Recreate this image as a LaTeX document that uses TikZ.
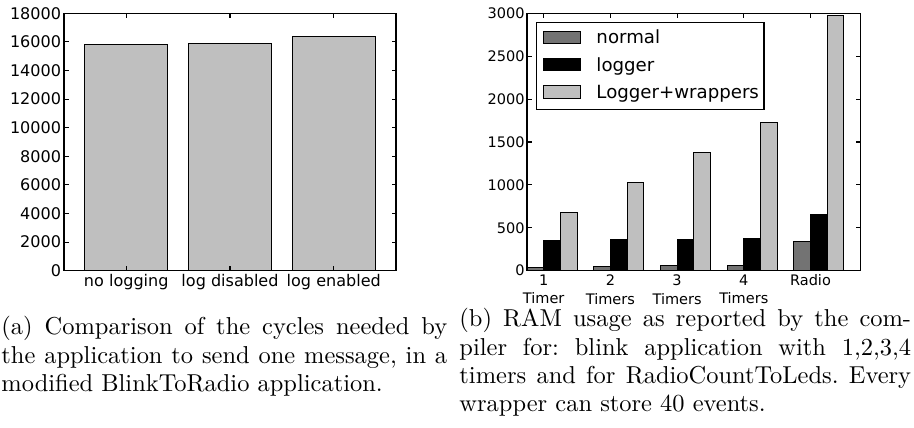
\documentclass[tikz,border=0pt]{standalone}
\usepackage{fontspec}
\newfontfamily\plotfont{DejaVu Sans}
\usepackage{tikz}
\usetikzlibrary{positioning}
\definecolor{barnormal}{gray}{0.45}
\definecolor{barwrap}{gray}{0.75}
\frenchspacing

\begin{document}
\begin{tikzpicture}[x=0.424pt,y=0.424pt]
	\tikzstyle{barbox}=[draw=black, line width=0.4pt]
	\tikzstyle{axframe}=[draw=black, line width=0.45pt]
	\tikzstyle{axtick}=[line width=0.45pt]
	\tikzstyle{labA}=[inner sep=0pt, font=\plotfont\fontsize{6.8}{8}\selectfont]
	\tikzstyle{labB}=[inner sep=0pt, font=\plotfont\fontsize{6.15}{8}\selectfont]
	\tikzstyle{legtext}=[inner sep=0pt, anchor=base west, font=\plotfont\fontsize{7.7}{9}\selectfont]
	\tikzstyle{caption}=[inner sep=0pt, anchor=base west, align=justify, font=\fontsize{10.37}{12}\selectfont]
	\useasboundingbox (0,0) rectangle (914,428);

	% (a) cycles per message
	\foreach \v [count=\i from 0] in {15.85,15.86,16.40}
		\draw[barbox, fill=barwrap] ({64+(0.2+\i)*103.75},157.3) rectangle ++(83,{\v*14.3});
	\draw[axframe] (64,157.3) rectangle (396,414.7);
	\foreach \lab [count=\i from 0] in {0,2000,4000,6000,8000,10000,12000,14000,16000,18000} {
		\node[labA, anchor=east] (ylA\i) at (61.5,{157.3+\i*28.6}) {\lab};
		\draw[axtick] (64,{157.3+\i*28.6}) -- ++(4.5,0) (396,{157.3+\i*28.6}) -- ++(-4.5,0);
	}
	\foreach \lab [count=\i from 0] in {no logging,log disabled,log enabled} {
		\node[labA, anchor=north] (xlA\i) at ({64+(0.6+\i)*103.75},154) {\lab};
		\draw[axtick] ({64+(0.6+\i)*103.75},157.3) -- ++(0,4.5) ({64+(0.6+\i)*103.75},414.7) -- ++(0,-4.5);
	}

	% (b) RAM usage
	\foreach \n/\l/\w [count=\i from 0] in {40/350/684,47/361/1030,58/369/1380,66/381/1725,346/661/2969} {
		\draw[barbox, fill=barnormal] ({527+\i*66.7},157.3) rectangle ++(16.7,{\n*0.0858});
		\draw[barbox, fill=black] ({527+(\i+0.25)*66.7},157.3) rectangle ++(16.7,{\l*0.0858});
		\draw[barbox, fill=barwrap] ({527+(\i+0.5)*66.7},157.3) rectangle ++(16.7,{\w*0.0858});
	}
	\draw[axframe] (527,157.3) rectangle (860.5,414.7);
	\foreach \t [count=\i from 0] in {0,500,...,3000} {
		\node[labB, anchor=east] (ylB\i) at (525,{157.3+\t*0.0858}) {\t};
		\draw[axtick] (527,{157.3+\t*0.0858}) -- ++(4.5,0) (860.5,{157.3+\t*0.0858}) -- ++(-4.5,0);
	}
	\foreach \lab [count=\i from 0] in {{1\\Timer},{2\\Timers},{3\\Timers},{4\\Timers},{Radio}} {
		\node[labB, anchor=north, align=center] (xlB\i) at ({527+(\i+0.25)*66.7},154) {\lab};
		\draw[axtick] ({527+(\i+0.25)*66.7},157.3) -- ++(0,4.5) ({527+(\i+0.25)*66.7},414.7) -- ++(0,-4.5);
	}

	% legend
	\draw[axframe, fill=white] (536.7,318.7) rectangle (764,405.3);
	\draw[barbox, fill=barnormal] (543.3,384.7) rectangle (580.7,396.3);
	\draw[barbox, fill=black] (543.3,357.3) rectangle (580.7,369.7);
	\draw[barbox, fill=barwrap] (543.3,329.7) rectangle (580.7,342.3);
	\node[legtext] (legNormal) at (596,384) {normal};
	\node[legtext] (legLogger) at (596,356.7) {logger};
	\node[legtext] (legWrap) at (596,329.3) {Logger+wrappers};

	% captions
	\node[caption, text width=189pt] (capA) at (1,93)
	{(a) Comparison of the cycles needed by\linebreak the application to send one message, in a\linebreak modified BlinkToRadio application.};
	\node[caption, text width=191.5pt] (capB) at (459,101)
	{(b) RAM usage as reported by the com-\linebreak piler for: blink application with 1,2,3,4\linebreak timers and for RadioCountToLeds. Every\linebreak wrapper can store 40 events.};
\end{tikzpicture}
\end{document}
